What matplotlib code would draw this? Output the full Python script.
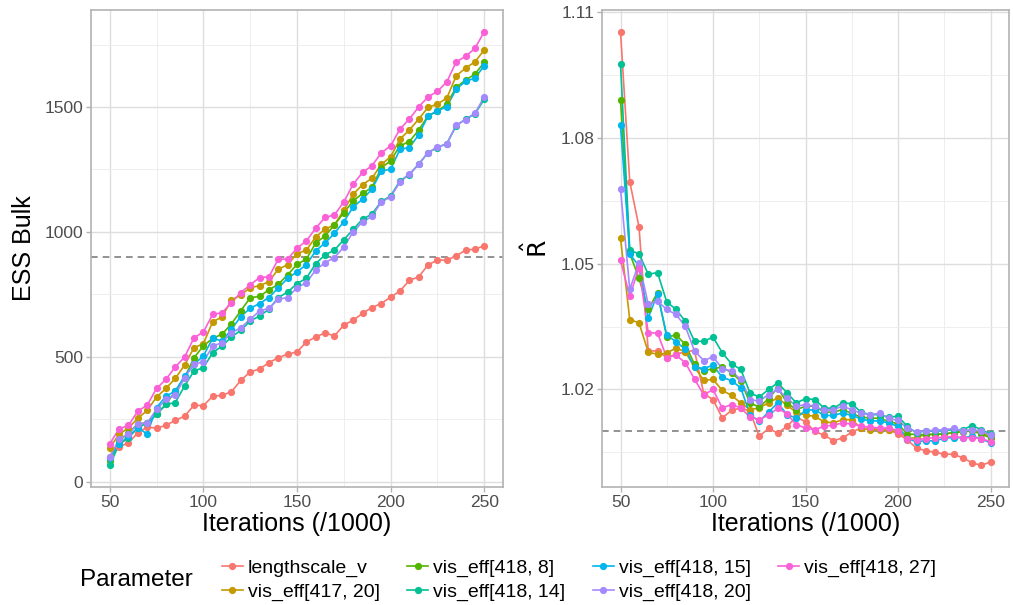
import matplotlib
matplotlib.use("Agg")
import matplotlib.pyplot as plt
from matplotlib.lines import Line2D
from matplotlib.ticker import MultipleLocator

plt.rcParams['font.family'] = ['Liberation Sans', 'DejaVu Sans']

iters = [50, 55, 60, 65, 70, 75, 80, 85, 90, 95, 100, 105, 110, 115, 120, 125, 130,
         135, 140, 145, 150, 155, 160, 165, 170, 175, 180, 185, 190, 195, 200, 205,
         210, 215, 220, 225, 230, 235, 240, 245, 250]

params = ["lengthscale_v", "vis_eff[417, 20]", "vis_eff[418, 8]", "vis_eff[418, 14]",
          "vis_eff[418, 15]", "vis_eff[418, 20]", "vis_eff[418, 27]"]
colors = ["#F8766D", "#C49A00", "#53B400", "#00C094", "#00B6EB", "#A58AFF", "#FB61D7"]

# ESS bulk
ess_lengthscale = [100, 139, 155, 195, 218, 214, 225, 245, 262, 306, 304, 342, 345, 360, 405,
                   439, 451, 476, 496, 510, 519, 559, 579, 596, 583, 627, 646, 674, 697, 713,
                   739, 763, 806, 820, 868, 887, 887, 904, 927, 931, 944]
ess_417_20 = [135, 189, 215, 253, 285, 338, 373, 413, 467, 536, 552, 640, 659, 727, 747, 777,
              784, 801, 851, 868, 913, 927, 980, 1011, 1028, 1087, 1151, 1189, 1215, 1270,
              1301, 1372, 1408, 1452, 1499, 1512, 1536, 1625, 1656, 1681, 1729]
ess_418_8 = [82, 162, 195, 231, 235, 269, 309, 362, 416, 496, 543, 574, 590, 632, 684, 736,
             742, 768, 790, 828, 870, 891, 955, 984, 1028, 1077, 1124, 1154, 1178, 1256, 1285,
             1345, 1362, 1408, 1465, 1483, 1512, 1579, 1608, 1632, 1679]
ess_418_14 = [65, 149, 175, 215, 235, 269, 309, 316, 383, 443, 456, 516, 543, 579, 606, 643,
              663, 690, 737, 759, 793, 814, 873, 908, 927, 969, 1010, 1051, 1071, 1122, 1144,
              1205, 1229, 1272, 1318, 1338, 1354, 1425, 1452, 1472, 1532]
ess_418_15 = [95, 149, 182, 215, 191, 296, 342, 362, 423, 470, 503, 574, 563, 610, 661, 694,
              713, 737, 776, 814, 840, 869, 924, 956, 994, 1041, 1100, 1131, 1171, 1244, 1251,
              1331, 1338, 1389, 1465, 1485, 1501, 1572, 1603, 1616, 1666]
ess_418_20 = [98, 169, 191, 231, 235, 289, 329, 346, 416, 470, 480, 543, 556, 596, 616, 650,
              683, 694, 730, 737, 777, 797, 847, 877, 897, 940, 1000, 1040, 1062, 1120, 1140,
              1200, 1232, 1270, 1318, 1340, 1352, 1428, 1450, 1475, 1541]
ess_418_27 = [151, 211, 225, 282, 306, 373, 409, 459, 499, 576, 599, 670, 676, 717, 757, 788,
              817, 820, 891, 891, 935, 964, 1015, 1058, 1068, 1120, 1191, 1238, 1265, 1316,
              1345, 1412, 1452, 1501, 1541, 1563, 1601, 1681, 1703, 1735, 1802]

# R-hat
rhat_lengthscale = [1.1054, 1.0696, 1.0588, 1.0292, 1.0292, 1.0276, 1.0284, 1.0290, 1.0293,
                    1.0190, 1.0176, 1.0132, 1.0150, 1.0156, 1.0148, 1.0088, 1.0107, 1.0096,
                    1.0112, 1.0134, 1.0123, 1.0100, 1.0091, 1.0078, 1.0084, 1.0098, 1.0108,
                    1.0106, 1.0106, 1.0104, 1.0094, 1.0080, 1.0060, 1.0054, 1.0050, 1.0046,
                    1.0045, 1.0037, 1.0025, 1.0019, 1.0027]
rhat_417_20 = [1.0561, 1.0367, 1.0359, 1.0289, 1.0284, 1.0287, 1.0299, 1.0290, 1.0253, 1.0222,
               1.0224, 1.0198, 1.0186, 1.0168, 1.0152, 1.0156, 1.0168, 1.0180, 1.0162, 1.0146,
               1.0139, 1.0136, 1.0123, 1.0120, 1.0128, 1.0128, 1.0108, 1.0104, 1.0104, 1.0103,
               1.0102, 1.0083, 1.0085, 1.0093, 1.0093, 1.0094, 1.0097, 1.0101, 1.0103, 1.0097,
               1.0088]
rhat_418_8 = [1.0892, 1.0525, 1.0465, 1.0391, 1.0431, 1.0325, 1.0330, 1.0308, 1.0260, 1.0244,
              1.0250, 1.0253, 1.0240, 1.0220, 1.0168, 1.0158, 1.0178, 1.0204, 1.0168, 1.0152,
              1.0160, 1.0160, 1.0146, 1.0146, 1.0152, 1.0143, 1.0134, 1.0132, 1.0131, 1.0124,
              1.0118, 1.0093, 1.0093, 1.0092, 1.0093, 1.0094, 1.0097, 1.0099, 1.0101, 1.0094,
              1.0084]
rhat_418_14 = [1.0978, 1.0532, 1.0524, 1.0475, 1.0479, 1.0409, 1.0391, 1.0363, 1.0315, 1.0315,
               1.0325, 1.0288, 1.0261, 1.0248, 1.0192, 1.0182, 1.0200, 1.0216, 1.0192, 1.0168,
               1.0178, 1.0176, 1.0156, 1.0155, 1.0168, 1.0166, 1.0146, 1.0140, 1.0140, 1.0134,
               1.0136, 1.0112, 1.0096, 1.0102, 1.0100, 1.0102, 1.0104, 1.0104, 1.0114, 1.0104,
               1.0094]
rhat_418_15 = [1.0831, 1.0523, 1.0495, 1.0371, 1.0428, 1.0330, 1.0314, 1.0296, 1.0253, 1.0250,
               1.0258, 1.0229, 1.0221, 1.0204, 1.0140, 1.0124, 1.0146, 1.0168, 1.0140, 1.0132,
               1.0150, 1.0152, 1.0138, 1.0138, 1.0144, 1.0138, 1.0130, 1.0125, 1.0125, 1.0120,
               1.0112, 1.0083, 1.0075, 1.0078, 1.0077, 1.0084, 1.0085, 1.0085, 1.0088, 1.0083,
               1.0072]
rhat_418_20 = [1.0679, 1.0439, 1.0503, 1.0403, 1.0411, 1.0391, 1.0379, 1.0351, 1.0292, 1.0269,
               1.0278, 1.0250, 1.0244, 1.0224, 1.0176, 1.0172, 1.0188, 1.0200, 1.0180, 1.0160,
               1.0164, 1.0160, 1.0150, 1.0152, 1.0160, 1.0152, 1.0143, 1.0140, 1.0143, 1.0131,
               1.0126, 1.0108, 1.0099, 1.0101, 1.0103, 1.0104, 1.0107, 1.0101, 1.0104, 1.0101,
               1.0091]
rhat_418_27 = [1.0508, 1.0423, 1.0491, 1.0335, 1.0335, 1.0276, 1.0282, 1.0264, 1.0225, 1.0187,
               1.0200, 1.0156, 1.0164, 1.0156, 1.0134, 1.0128, 1.0139, 1.0155, 1.0142, 1.0116,
               1.0108, 1.0104, 1.0112, 1.0115, 1.0120, 1.0118, 1.0112, 1.0110, 1.0108, 1.0108,
               1.0102, 1.0083, 1.0080, 1.0083, 1.0085, 1.0086, 1.0088, 1.0085, 1.0085, 1.0083,
               1.0075]

ess_all = [ess_lengthscale, ess_417_20, ess_418_8, ess_418_14, ess_418_15, ess_418_20, ess_418_27]
rhat_all = [rhat_lengthscale, rhat_417_20, rhat_418_8, rhat_418_14, rhat_418_15, rhat_418_20, rhat_418_27]

W, H = 1013, 605
fig = plt.figure(figsize=(W / 100, H / 100), dpi=100)
ax1 = fig.add_axes([91 / W, 1 - 487 / H, (503 - 91) / W, (487 - 10) / H])
ax2 = fig.add_axes([602 / W, 1 - 487 / H, (1009 - 602) / W, (487 - 10) / H])


def style(ax, all_vals, major, minor):
    lo = min(min(v) for v in all_vals)
    hi = max(max(v) for v in all_vals)
    pad = (hi - lo) * 0.05
    ax.set_ylim(lo - pad, hi + pad)
    ax.set_xlim(40, 260)
    ax.xaxis.set_major_locator(MultipleLocator(50))
    ax.xaxis.set_minor_locator(MultipleLocator(25))
    ax.yaxis.set_major_locator(MultipleLocator(major))
    ax.yaxis.set_minor_locator(MultipleLocator(minor))
    ax.grid(which='major', color='#DEDEDE', linewidth=1.0)
    ax.grid(which='minor', color='#EBEBEB', linewidth=0.6)
    ax.set_axisbelow(True)
    for s in ax.spines.values():
        s.set_color('#B3B3B3')
        s.set_linewidth(1.2)
    ax.tick_params(which='major', color='#B3B3B3', length=3.5, width=1, labelsize=12.5,
                   labelcolor='#4D4D4D', pad=2)
    ax.tick_params(which='minor', length=0)
    ax.set_xlabel("Iterations (/1000)", fontsize=18, labelpad=2)


for ax, data in [(ax1, ess_all), (ax2, rhat_all)]:
    for vals, c in zip(data, colors):
        ax.plot(iters, vals, color=c, linewidth=1.2, zorder=3)
    for vals, c in zip(data, colors):
        ax.plot(iters, vals, 'o', color=c, markersize=5.2, markeredgewidth=0, zorder=4)

style(ax1, ess_all, 500, 250)
style(ax2, rhat_all, 0.03, 0.015)
ax2.set_yticks([1.02, 1.05, 1.08, 1.11])
ax2.set_yticklabels(["1.02", "1.05", "1.08", "1.11"])

ax1.axhline(900, color='#7F7F7F', linestyle=(0, (4, 3)), linewidth=1.2, zorder=2)
ax2.axhline(1.01, color='#7F7F7F', linestyle=(0, (4, 3)), linewidth=1.2, zorder=2)

ax1.set_ylabel("ESS Bulk", fontsize=18, labelpad=6)
ax2.set_ylabel(r"$\hat{\mathrm{R}}$", fontsize=18, labelpad=6)

handles = [Line2D([0], [0], color=c, linewidth=1.2, marker='o', markersize=5.2,
                  markeredgewidth=0) for c in colors]
fig.legend(handles, params, ncol=4, loc='center left', bbox_to_anchor=(204 / W, 1 - 580 / H),
           frameon=False, fontsize=14, handlelength=1.1, handletextpad=0.25,
           columnspacing=1.4, labelspacing=0.3)
fig.text(80 / W, 1 - 580 / H, "Parameter", fontsize=17.5, va='center', ha='left')

fig.savefig("out.png", dpi=100)
